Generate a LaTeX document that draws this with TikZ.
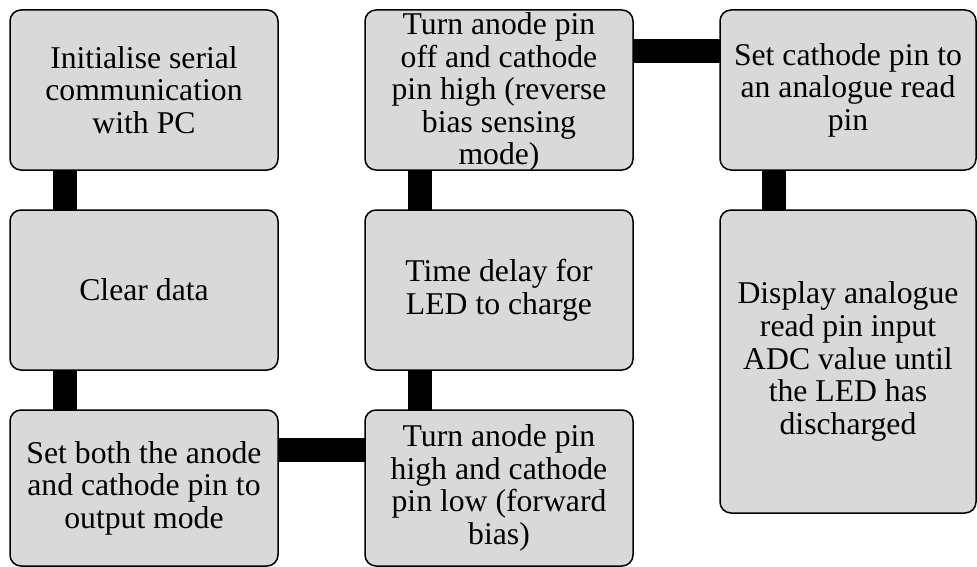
\documentclass[tikz,border=0pt]{standalone}
\usepackage{fontspec}
\setmainfont{Liberation Serif}
\usetikzlibrary{backgrounds}
\definecolor{boxfill}{HTML}{D9D9D9}
\tikzset{
  box/.style={draw=black, line width=1.5pt, fill=boxfill, rounded corners=11pt, inner sep=0pt, outer sep=0pt},
  txt/.style={align=center, inner sep=0pt, font=\fontsize{31.7}{32.6}\selectfont},
  conn/.style={line width=24pt, draw=black}
}
\begin{document}
\begin{tikzpicture}[x=1pt,y=-1pt]
\useasboundingbox (0,0) rectangle (977,567);
% boxes
\node[box, minimum width=268pt, minimum height=160pt] (a) at (144,90) {};
\node[box, minimum width=268pt, minimum height=160pt] (b) at (144,290) {};
\node[box, minimum width=268pt, minimum height=156pt] (c) at (144,488) {};
\node[box, minimum width=268pt, minimum height=160pt] (d) at (499,90) {};
\node[box, minimum width=268pt, minimum height=160pt] (t) at (499,290) {};
\node[box, minimum width=268pt, minimum height=156pt] (e) at (499,488) {};
\node[box, minimum width=256pt, minimum height=160pt] (f) at (848,90) {};
\node[box, minimum width=256pt, minimum height=303pt] (g) at (848,361.5) {};
% texts
\node[txt] (at) at (a.center) {Initialise serial\\communication\\with PC};
\node[txt] (bt) at (b.center) {Clear data};
\node[txt] (ct) at (c.center) {Set both the anode\\and cathode pin to\\output mode};
\node[txt] (dt) at ([yshift=-2pt]d.center) {Turn anode pin\\off and cathode\\pin high (reverse\\bias sensing\\mode)};
\node[txt] (tt) at (t.center) {Time delay for\\LED to charge};
\node[txt] (et) at (e.center) {Turn anode pin\\high and cathode\\pin low (forward\\bias)};
\node[txt] (ft) at (f.center) {Set cathode pin to\\an analogue read\\pin};
\node[txt] (gt) at (g.center) {Display analogue\\read pin input\\ADC value until\\the LED has\\discharged};
% connectors
\begin{scope}[on background layer]
\draw[conn] ([xshift=55pt]a.south west) -- ([xshift=55pt]b.north west);
\draw[conn] ([xshift=55pt]b.south west) -- ([xshift=55pt]c.north west);
\draw[conn] ([yshift=-40pt]c.north east) -- ([yshift=-40pt]e.north west);
\draw[conn] ([xshift=55pt]e.north west) -- ([xshift=55pt]t.south west);
\draw[conn] ([xshift=55pt]t.north west) -- ([xshift=55pt]d.south west);
\draw[conn] ([yshift=-41pt]d.north east) -- ([yshift=-41pt]f.north west);
\draw[conn] ([xshift=54pt]f.south west) -- ([xshift=54pt]g.north west);
\end{scope}
\end{tikzpicture}
\end{document}
